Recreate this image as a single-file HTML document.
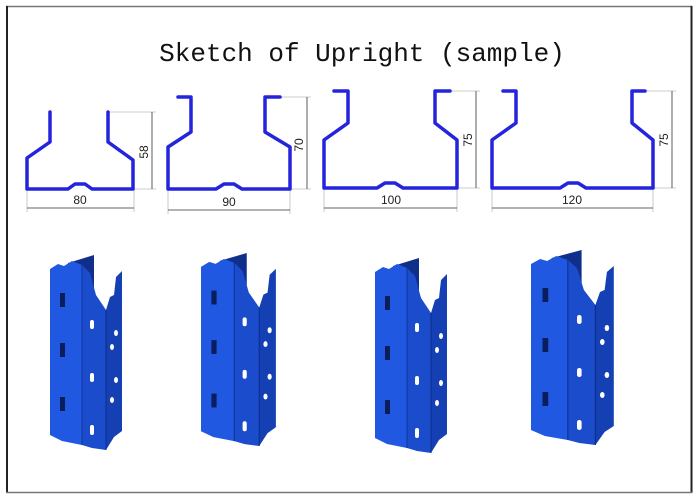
<!DOCTYPE html>
<html><head><meta charset="utf-8"><style>
html,body{margin:0;padding:0;background:#fff;}
svg{display:block;}
</style></head><body>
<svg width="700" height="500" viewBox="0 0 700 500" xmlns="http://www.w3.org/2000/svg">
<rect x="0" y="0" width="700" height="500" fill="#fff"/>
<line x1="6" y1="6.5" x2="692" y2="6.5" stroke="#777" stroke-width="1.5"/>
<line x1="7" y1="6" x2="7" y2="493" stroke="#222" stroke-width="2"/>
<line x1="691.5" y1="6" x2="691.5" y2="493" stroke="#222" stroke-width="2"/>
<line x1="6" y1="492.5" x2="692" y2="492.5" stroke="#777" stroke-width="1.5"/>

<text x="362" y="61" font-family="Liberation Mono, monospace" font-size="26" text-anchor="middle" fill="#111">Sketch of Upright (sample)</text>

<g fill="none" stroke="#bbb" stroke-width="0.8">
<line x1="108" y1="112" x2="156" y2="112"/><line x1="133" y1="189" x2="156" y2="189"/>
<line x1="27" y1="189" x2="27" y2="212"/><line x1="134" y1="189" x2="134" y2="212"/>
<line x1="280" y1="97" x2="311" y2="97"/><line x1="290" y1="189" x2="311" y2="189"/>
<line x1="168" y1="189" x2="168" y2="214"/><line x1="290" y1="189" x2="290" y2="214"/>
<line x1="450" y1="91" x2="480" y2="91"/><line x1="457" y1="188" x2="480" y2="188"/>
<line x1="324" y1="188" x2="324" y2="212"/><line x1="457" y1="188" x2="457" y2="212"/>
<line x1="645" y1="91" x2="676" y2="91"/><line x1="653" y1="188" x2="676" y2="188"/>
<line x1="492" y1="188" x2="492" y2="212"/><line x1="653" y1="188" x2="653" y2="212"/>
</g>
<g stroke="#333" stroke-width="0.8">
<line x1="152" y1="112" x2="152" y2="189"/><line x1="27" y1="208" x2="134" y2="208"/>
<line x1="307" y1="97" x2="307" y2="189"/><line x1="168" y1="210" x2="290" y2="210"/>
<line x1="476" y1="91" x2="476" y2="188"/><line x1="324" y1="208" x2="457" y2="208"/>
<line x1="672" y1="91" x2="672" y2="188"/><line x1="492" y1="208" x2="653" y2="208"/>
</g>
<g fill="#222" font-family="Liberation Sans, sans-serif" font-size="12">
<text x="80" y="204" text-anchor="middle">80</text>
<text x="229" y="206" text-anchor="middle">90</text>
<text x="391" y="204" text-anchor="middle">100</text>
<text x="572" y="204" text-anchor="middle">120</text>
<text transform="translate(148,152) rotate(-90)" text-anchor="middle">58</text>
<text transform="translate(303,145) rotate(-90)" text-anchor="middle">70</text>
<text transform="translate(472,140) rotate(-90)" text-anchor="middle">75</text>
<text transform="translate(668,140) rotate(-90)" text-anchor="middle">75</text>
</g>

<g fill="none" stroke="#2424dc" stroke-width="3.5" stroke-linejoin="round" stroke-linecap="round">
<path d="M50 112 V142 L27 158 V189 H68 L75 184 H85 L92 189 H133 V160 L108 142 V112"/>
<path d="M178 97 H191 V132 L168 147 V189 H216 L224 184 H234 L242 189 H290 V147 L265 132 V97 H280"/>
<path d="M334 91 H348 V123 L324 140 V188 H377 L385 183 H395 L403 188 H457 V140 L435 123 V91 H450"/>
<path d="M503 91 H516 V123 L492 140 V188 H560 L568 183 H578 L586 188 H653 V140 L632 123 V91 H645"/>
</g>

<defs>
<g id="col">
<polygon points="18,8 44,0 44,52 18,40" fill="#0f2f8a"/>
<polygon points="0,14 8,9 14,11 22,6 32,10 32,190 12,186 0,180" fill="#2158e2"/>
<polygon points="32,10 40,18 46,40 56,55 56,195 42,193 32,190" fill="#1b4ccc"/>
<polygon points="56,55 60,42 64,40 66,22 72,16 72,176 64,182 56,195" fill="#1540b4"/>
<line x1="32" y1="10" x2="32" y2="190" stroke="#0f3399" stroke-width="1"/>
<line x1="56" y1="55" x2="56" y2="195" stroke="#0d2d88" stroke-width="1"/>
<g fill="#0a1e5e">
<rect x="10" y="38" width="5" height="14"/><rect x="10" y="88" width="5" height="14"/><rect x="10" y="142" width="5" height="14"/>
</g>
<g fill="#fff">
<rect x="40" y="65" width="4" height="9" rx="2"/><rect x="40" y="118" width="4" height="9" rx="2"/><rect x="40" y="170" width="4" height="10" rx="2"/>
<ellipse cx="66" cy="78" rx="2" ry="3"/><ellipse cx="62" cy="92" rx="2" ry="3"/><ellipse cx="66" cy="125" rx="2" ry="3"/><ellipse cx="62" cy="145" rx="2" ry="3"/>
</g>
</g>
</defs>
<use href="#col" transform="translate(50,255)"/>
<use href="#col" transform="translate(201,253) scale(1.04,0.99)"/>
<use href="#col" transform="translate(375,258)"/>
<use href="#col" transform="translate(531,250) scale(1.15,1)"/>
</svg>
</body></html>
